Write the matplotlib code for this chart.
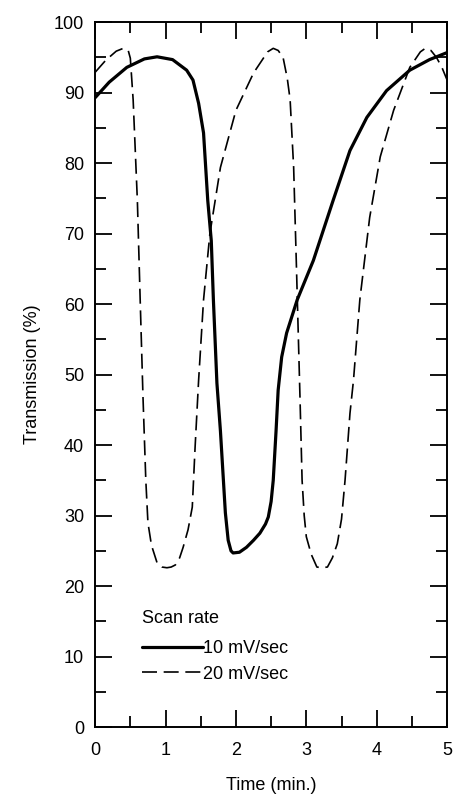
import matplotlib.pyplot as plt
from matplotlib.ticker import MultipleLocator

plt.rcParams['font.family'] = ['Liberation Sans', 'DejaVu Sans']

# 10 mV/sec (solid)
t10 = [0.0, 0.2, 0.45, 0.7, 0.88, 1.1, 1.3, 1.39, 1.47, 1.54, 1.6, 1.65, 1.68,
       1.73, 1.78, 1.85, 1.89, 1.93, 1.96, 2.05, 2.15, 2.25, 2.34, 2.42, 2.46,
       2.5, 2.53, 2.57, 2.6, 2.65, 2.72, 2.87, 3.1, 3.38, 3.62, 3.86, 4.14,
       4.47, 4.75, 5.0]
y10 = [89.3, 91.5, 93.6, 94.8, 95.1, 94.7, 93.2, 91.8, 88.5, 84.3, 74.7, 69.0,
       60.6, 48.8, 42.0, 30.4, 26.5, 25.0, 24.7, 24.8, 25.5, 26.5, 27.5, 28.8,
       29.8, 32.0, 35.0, 42.0, 47.8, 52.5, 55.9, 60.6, 66.2, 74.7, 81.8, 86.5,
       90.3, 93.2, 94.7, 95.7]

# 20 mV/sec (dashed)
t20 = [0.0, 0.15, 0.3, 0.4, 0.47, 0.5, 0.54, 0.6, 0.64, 0.68, 0.72, 0.75, 0.8,
       0.88, 0.95, 1.02, 1.08, 1.14, 1.2, 1.25, 1.32, 1.38, 1.42, 1.47, 1.54,
       1.63, 1.78, 2.0, 2.25, 2.45, 2.53, 2.6, 2.67, 2.73, 2.77, 2.82, 2.86,
       2.91, 2.94, 2.97, 3.0, 3.07, 3.15, 3.22, 3.3, 3.37, 3.44, 3.5, 3.55,
       3.62, 3.67, 3.76, 3.9, 4.05, 4.24, 4.47, 4.62, 4.69, 4.77, 4.85, 4.93,
       5.0]
y20 = [92.9, 94.6, 95.9, 96.3, 96.0, 94.9, 89.0, 74.7, 60.6, 46.8, 35.0, 29.0,
       25.8, 23.3, 22.7, 22.6, 22.7, 23.0, 24.0, 25.5, 28.0, 31.2, 39.7, 49.2,
       60.6, 70.0, 79.4, 87.5, 92.8, 95.8, 96.3, 96.0, 95.0, 92.0, 89.0, 79.4,
       65.2, 46.8, 35.0, 30.0, 27.0, 24.5, 22.7, 22.6, 22.7, 24.0, 26.0, 29.5,
       35.0, 44.5, 49.2, 60.6, 72.3, 80.9, 87.5, 93.6, 95.8, 96.3, 96.0, 95.0,
       93.5, 91.8]

fig = plt.figure(figsize=(4.53, 7.95), dpi=100)
ax = fig.add_axes([0.21, 0.0855, 0.777, 0.8865])

ax.plot(t10, y10, color='black', lw=2.3, solid_capstyle='round',
        label='10 mV/sec')
ax.plot(t20, y20, color='black', lw=1.2, dashes=(9, 4),
        label='20 mV/sec')

ax.set_xlim(0, 5)
ax.set_ylim(0, 100)
ax.xaxis.set_major_locator(MultipleLocator(1))
ax.xaxis.set_minor_locator(MultipleLocator(0.5))
ax.yaxis.set_major_locator(MultipleLocator(10))
ax.yaxis.set_minor_locator(MultipleLocator(5))
ax.tick_params(which='both', direction='in', top=True, right=True,
               width=1.3, labelsize=13)
ax.tick_params(axis='y', pad=8)
ax.tick_params(axis='x', pad=11)
ax.tick_params(which='major', length=12)
ax.tick_params(which='minor', length=8)
for s in ax.spines.values():
    s.set_linewidth(1.4)

ax.set_xlabel('Time (min.)', fontsize=13, labelpad=13)
ax.set_ylabel('Transmission (%)', fontsize=13, labelpad=9)

leg = ax.legend(title='Scan rate', loc='lower left',
                bbox_to_anchor=(0.086, 0.04), frameon=False,
                handlelength=3.4, handletextpad=0.0, fontsize=13,
                title_fontsize=13, labelspacing=0.45, alignment='left')
leg._legend_box.sep = 10

plt.savefig('out.png', dpi=100)
